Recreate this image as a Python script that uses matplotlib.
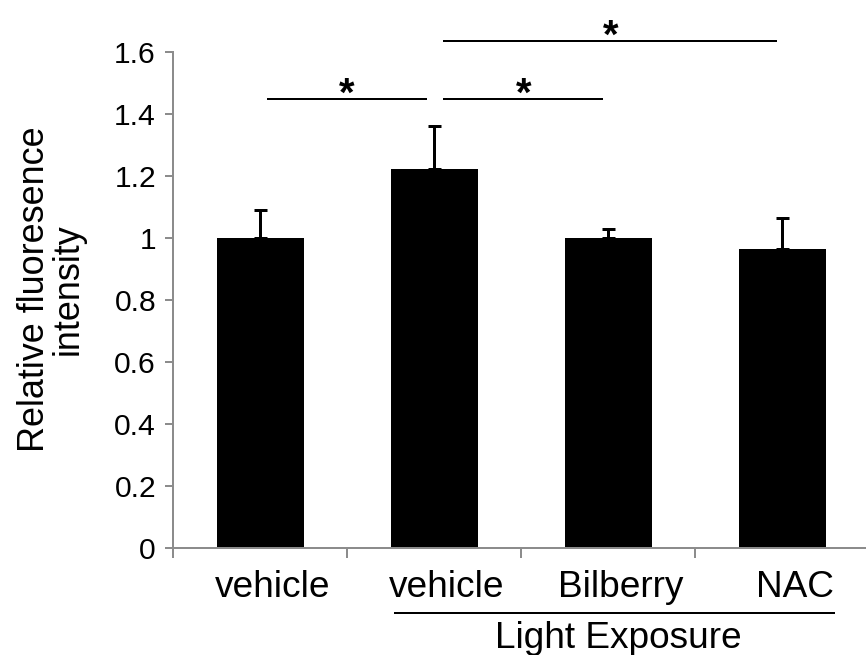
import matplotlib
matplotlib.use("Agg")
import matplotlib.pyplot as plt

# data
groups = ["vehicle", "vehicle", "Bilberry", "NAC"]
means = [1.0, 1.223, 1.001, 0.963]
err_up = [0.09, 0.137, 0.029, 0.102]
yticks = [0, 0.2, 0.4, 0.6, 0.8, 1.0, 1.2, 1.4, 1.6]
ytick_labels = ["0", "0.2", "0.4", "0.6", "0.8", "1", "1.2", "1.4", "1.6"]
# significance brackets: (start, end, height)
sig_pairs = [(0.546, 1.453, 1.448), (1.56, 2.467, 1.449), (1.56, 3.466, 1.635)]

plt.rcParams['font.family'] = ['Liberation Sans', 'DejaVu Sans']
GRAY = "#8c8c8c"

fig = plt.figure(figsize=(866 / 72, 655 / 72), dpi=72)
ax = fig.add_axes([173 / 866, 107 / 655, 696 / 866, 496 / 655])

pos = [i + 0.5 for i in range(len(groups))]
ax.bar(pos, means, width=0.5, color="black", zorder=2)
ax.errorbar(pos, means, yerr=[[0] * len(means), err_up], fmt="none",
            ecolor="black", elinewidth=3, capsize=6.5, capthick=3, zorder=3)

ax.set_xlim(0, 4)
ax.set_ylim(0, 1.6)
ax.set_yticks(yticks)
ax.set_yticklabels(ytick_labels, fontsize=30)
ax.set_xticks([0, 1, 2, 3, 4])
ax.set_xticklabels([])

for side in ["top", "right"]:
    ax.spines[side].set_visible(False)
for side in ["left", "bottom"]:
    ax.spines[side].set_color(GRAY)
    ax.spines[side].set_linewidth(2)
ax.tick_params(axis="y", direction="out", length=8, width=2, color=GRAY, pad=9)
ax.tick_params(axis="x", direction="out", length=10, width=2, color=GRAY)

# category labels
for p, g in zip(pos, groups):
    ax.text(p + 0.075, -0.158, g, ha="center", va="baseline", fontsize=37, clip_on=False)

# Light Exposure grouping
ax.plot([1.276, 3.80], [-0.2097, -0.2097], color="black", lw=2, clip_on=False)
ax.text(2.557, -0.322, "Light Exposure", ha="center", va="baseline", fontsize=37, clip_on=False)

# significance lines and stars
for x0, x1, h in sig_pairs:
    ax.plot([x0, x1], [h, h], color="black", lw=2, clip_on=False)
    ax.text((x0 + x1) / 2, h - 0.022, "*", ha="center", va="baseline", fontsize=40,
            fontweight="bold", clip_on=False)

ax.text(-0.701, 0.835, "Relative fluoresence\nintensity", rotation=90, ha="center", va="center",
        fontsize=36, linespacing=0.95, multialignment="center", clip_on=False)

fig.savefig("out.png", dpi=72)
